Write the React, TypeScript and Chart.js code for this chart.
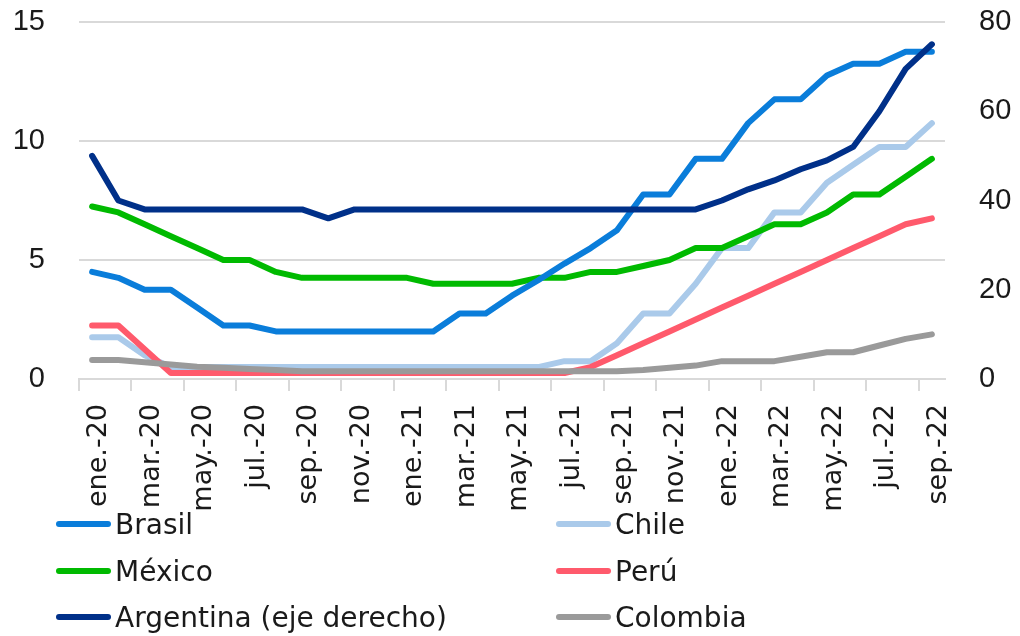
import React, { useEffect, useRef } from 'react';
import { Chart, registerables } from 'chart.js';

Chart.register(...registerables);

const categories = [
  'ene.-20', 'feb.-20', 'mar.-20', 'abr.-20', 'may.-20', 'jun.-20', 'jul.-20', 'ago.-20', 'sep.-20', 'oct.-20', 'nov.-20', 'dic.-20',
  'ene.-21', 'feb.-21', 'mar.-21', 'abr.-21', 'may.-21', 'jun.-21', 'jul.-21', 'ago.-21', 'sep.-21', 'oct.-21', 'nov.-21', 'dic.-21',
  'ene.-22', 'feb.-22', 'mar.-22', 'abr.-22', 'may.-22', 'jun.-22', 'jul.-22', 'ago.-22', 'sep.-22',
];

const brasil = [4.5, 4.25, 3.75, 3.75, 3.0, 2.25, 2.25, 2.0, 2.0, 2.0, 2.0, 2.0, 2.0, 2.0, 2.75, 2.75, 3.5, 4.15, 4.85, 5.5, 6.25, 7.75, 7.75, 9.25, 9.25, 10.75, 11.75, 11.75, 12.75, 13.25, 13.25, 13.75, 13.75];
const chile = [1.75, 1.75, 1.0, 0.5, 0.5, 0.5, 0.5, 0.5, 0.5, 0.5, 0.5, 0.5, 0.5, 0.5, 0.5, 0.5, 0.5, 0.5, 0.75, 0.75, 1.5, 2.75, 2.75, 4.0, 5.5, 5.5, 7.0, 7.0, 8.25, 9.0, 9.75, 9.75, 10.75];
const mexico = [7.25, 7.0, 6.5, 6.0, 5.5, 5.0, 5.0, 4.5, 4.25, 4.25, 4.25, 4.25, 4.25, 4.0, 4.0, 4.0, 4.0, 4.25, 4.25, 4.5, 4.5, 4.75, 5.0, 5.5, 5.5, 6.0, 6.5, 6.5, 7.0, 7.75, 7.75, 8.5, 9.25];
const peru = [2.25, 2.25, 1.25, 0.25, 0.25, 0.25, 0.25, 0.25, 0.25, 0.25, 0.25, 0.25, 0.25, 0.25, 0.25, 0.25, 0.25, 0.25, 0.25, 0.5, 1.0, 1.5, 2.0, 2.5, 3.0, 3.5, 4.0, 4.5, 5.0, 5.5, 6.0, 6.5, 6.75];
const argentina = [50, 40, 38, 38, 38, 38, 38, 38, 38, 36, 38, 38, 38, 38, 38, 38, 38, 38, 38, 38, 38, 38, 38, 38, 40, 42.5, 44.5, 47, 49, 52, 60, 69.5, 75];
const colombia = [4.25, 4.25, 3.75, 3.25, 2.75, 2.5, 2.25, 2.0, 1.75, 1.75, 1.75, 1.75, 1.75, 1.75, 1.75, 1.75, 1.75, 1.75, 1.75, 1.75, 1.75, 2.0, 2.5, 3.0, 4.0, 4.0, 4.0, 5.0, 6.0, 6.0, 7.5, 9.0, 10.0];

const leftTicks = [0, 5, 10, 15];
const rightTicks = [0, 20, 40, 60, 80];

const seriesNames = ['Brasil', 'Chile', 'México', 'Perú', 'Argentina (eje derecho)', 'Colombia'];
const seriesData = [brasil, chile, mexico, peru, argentina, colombia];
const seriesColors = ['#0A7DDA', '#AACAEA', '#00BA00', '#FF5A6C', '#003089', '#9A9A9A'];
const seriesAxes = ['y', 'y', 'y', 'y', 'y1', 'y1'];
const seriesOrder = [3, 5, 4, 2, 0, 1];

// legend slot positions (left of swatch, vertical centre)
const legendSlots = [
  { left: 56, top: 524 },
  { left: 556, top: 524 },
  { left: 56, top: 571 },
  { left: 556, top: 571 },
  { left: 56, top: 617 },
  { left: 556, top: 617 },
];

const TEXT = '#1a1a1a';
const GRID = '#d9d9d9';
const CLEAR = 'rgba(0,0,0,0)';

export default function App() {
  const ref = useRef<HTMLCanvasElement | null>(null);

  useEffect(() => {
    if (!ref.current) return;
    const chart = new Chart(ref.current, {
      type: 'line',
      data: {
        labels: categories,
        datasets: seriesNames.map((name, i) => ({
          label: name,
          data: seriesData[i],
          borderColor: seriesColors[i],
          backgroundColor: seriesColors[i],
          borderWidth: 6,
          pointRadius: 0,
          tension: 0,
          borderCapStyle: 'round' as const,
          borderJoinStyle: 'round' as const,
          yAxisID: seriesAxes[i],
          order: seriesOrder[i],
        })),
      },
      options: {
        responsive: false,
        devicePixelRatio: 1,
        animation: false,
        layout: { padding: { top: 22, left: 0, right: 0, bottom: 0 } },
        plugins: { legend: { display: false }, tooltip: { enabled: false } },
        scales: {
          x: {
            type: 'category',
            offset: true,
            grid: {
              offset: true,
              drawOnChartArea: false,
              drawTicks: true,
              tickLength: 12,
              lineWidth: 2,
              color: (ctx: any) => (ctx.index % 2 === 0 && ctx.index < categories.length ? GRID : CLEAR),
            },
            border: { display: true, color: GRID, width: 2 },
            ticks: {
              autoSkip: false,
              minRotation: 90,
              maxRotation: 90,
              padding: 13,
              labelOffset: 7,
              color: TEXT,
              font: { family: 'DejaVu Sans', size: 27 },
              callback: (_v: any, i: number) => (i % 2 === 0 ? categories[i] : ''),
            },
            afterFit: (s: any) => { s.height = 257; },
          },
          y: {
            position: 'left',
            min: 0,
            max: 15,
            afterBuildTicks: (s: any) => { s.ticks = leftTicks.map((v) => ({ value: v })); },
            grid: { color: GRID, lineWidth: 2, drawTicks: true, tickLength: 34, tickColor: CLEAR },
            border: { display: false },
            ticks: { padding: 0, color: TEXT, font: { family: 'Liberation Sans', size: 29 } },
            afterFit: (s: any) => { s.width = 79; },
          },
          y1: {
            position: 'right',
            min: 0,
            max: 80,
            afterBuildTicks: (s: any) => { s.ticks = rightTicks.map((v) => ({ value: v })); },
            grid: { drawOnChartArea: false, drawTicks: true, tickLength: 34, tickColor: CLEAR, color: CLEAR },
            border: { display: false },
            ticks: { padding: 0, color: TEXT, font: { family: 'Liberation Sans', size: 29 } },
            afterFit: (s: any) => { s.width = 75; },
          },
        },
      },
    });
    return () => chart.destroy();
  }, []);

  return (
    <div style={{ position: 'fixed', left: 0, top: 0, width: 1020, height: 636, background: '#fff', overflow: 'hidden' }}>
      <canvas ref={ref} width={1020} height={636} style={{ display: 'block', width: 1020, height: 636 }} />
      {seriesNames.map((name, i) => (
        <div
          key={name}
          style={{
            position: 'absolute',
            left: legendSlots[i].left,
            top: legendSlots[i].top - 20,
            height: 40,
            display: 'flex',
            alignItems: 'center',
            whiteSpace: 'nowrap',
            fontFamily: 'DejaVu Sans',
            fontSize: 28,
            color: TEXT,
          }}
        >
          <span style={{ display: 'inline-block', width: 55, height: 6, borderRadius: 3, background: seriesColors[i], marginRight: 4 }} />
          <span>{name}</span>
        </div>
      ))}
    </div>
  );
}
